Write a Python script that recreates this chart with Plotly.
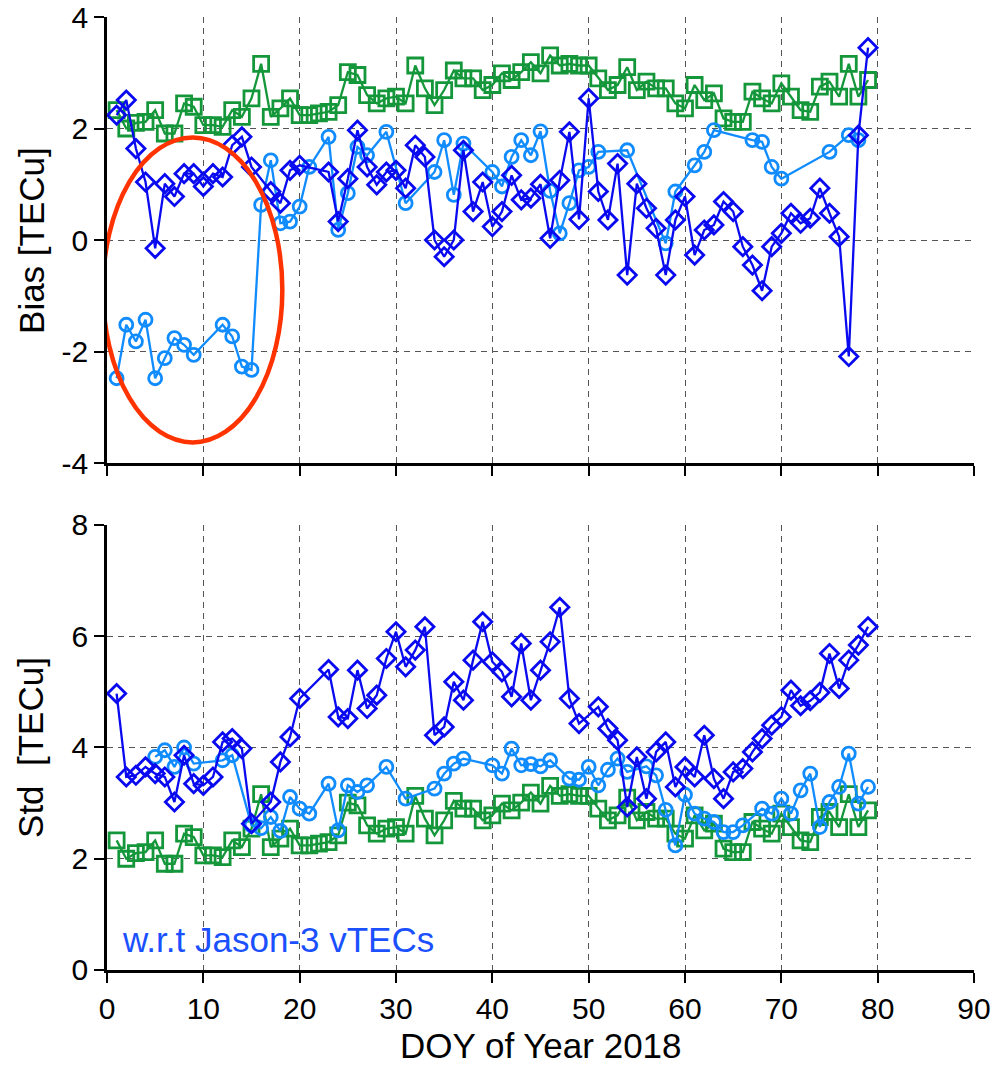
import plotly.graph_objects as go
from plotly.subplots import make_subplots

# Day of year 2018
doy = list(range(1, 80))

# Green squares (same daily values in both panels)
green_vals = [2.33, 2.00, 2.10, 2.12, 2.33, 1.91, 1.91, 2.45, 2.39, 2.06,
              2.06, 2.03, 2.33, 2.21, 2.54, 3.16, 2.21, 2.36, 2.54, 2.24,
              2.24, 2.27, 2.30, 2.42, 3.01, 2.96, 2.60, 2.45, 2.54, 2.57,
              2.45, 3.13, 2.72, 2.42, 2.69, 3.04, 2.90, 2.90, 2.69, 2.78,
              2.99, 2.87, 3.01, 3.19, 2.99, 3.31, 3.13, 3.16, 3.13, 3.13,
              2.90, 2.69, 2.78, 3.10, 2.69, 2.84, 2.72, 2.72, 2.45, 2.36,
              2.78, 2.51, 2.63, 2.18, 2.12, 2.12, 2.66, 2.54, 2.45, 2.81,
              2.57, 2.33, 2.30, 2.75, 2.84, 2.57, 3.16, 2.57, 2.87]

# Dark blue diamonds: bias
diamond_bias = [2.24, 2.51, 1.64, 1.04, -0.15, 1.01, 0.78, 1.19, 1.19, 0.96,
                1.19, 1.13, 1.70, 1.85, 1.31, None, 0.87, 0.66, 1.25, 1.34,
                None, None, 1.22, 0.33, 1.10, 1.97, 1.31, 0.99, 1.22, 1.25,
                0.93, 1.70, 1.49, 0.00, -0.30, 0.00, 1.61, 0.51, 1.04, 0.24,
                0.51, 1.16, 0.72, 0.75, 1.00, 0.03, 1.07, 1.94, 0.37, 2.54,
                0.87, 0.36, 1.37, -0.63, 1.01, 0.57, 0.21, -0.63, 0.36, 0.78,
                -0.27, 0.18, 0.27, 0.69, 0.51, -0.12, -0.45, -0.91, -0.12, 0.12,
                0.48, 0.30, 0.39, 0.93, 0.48, 0.06, -2.09, 1.88, 3.45]

# Light blue circles: bias
circle_bias = [-2.48, -1.52, -1.82, -1.43, -2.48, -2.12, -1.76, -1.88, -2.06, None,
               None, -1.52, -1.73, -2.27, -2.33, 0.63, 1.43, 0.30, 0.33, 0.60,
               1.31, None, 1.85, 0.18, 0.84, 1.67, 1.52, None, 1.94, None,
               0.66, None, None, 1.22, 1.79, 0.81, 1.73, None, None, 1.22,
               0.96, 1.49, 1.79, 1.52, 1.95, 0.88, 0.12, 0.66, 1.25, 1.31,
               1.58, None, None, 1.61, None, None, None, -0.06, 0.87, None,
               1.34, 1.58, 1.97, None, None, None, 1.79, 1.76, 1.31, 1.10,
               None, None, None, None, 1.58, None, 1.88, 1.79, None]

# Dark blue diamonds: std
diamond_std = [4.97, 3.47, 3.50, 3.65, 3.53, 3.47, 3.02, 3.86, 3.35, 3.32,
               3.47, 4.10, 4.16, 3.98, 2.63, None, 3.02, 3.74, 4.19, 4.88,
               None, None, 5.40, 4.55, 4.52, 5.39, 4.70, 4.94, 5.60, 6.08,
               5.45, 5.75, 6.17, 4.22, 4.37, 5.18, 4.85, 5.57, 6.26, 5.54,
               5.36, 4.91, 5.87, 4.85, 5.39, 5.90, 6.52, 4.88, 4.43, None,
               4.73, 4.34, 4.13, 2.93, 3.83, 3.08, 3.92, 4.10, 3.29, 3.65,
               3.47, 4.22, 3.44, 3.08, 3.56, 3.62, 3.92, 4.16, 4.40, 4.55,
               5.03, 4.75, 4.84, 4.99, 5.69, 5.06, 5.57, 5.84, 6.17]

# Light blue circles: std
circle_std = [None, None, None, None, 3.83, 3.95, 3.65, 4.00, 3.71, None,
              None, 3.77, 3.86, None, 2.60, 2.55, 2.75, 2.50, 3.11, 2.90,
              2.81, None, 3.35, 2.51, 3.32, 3.20, 3.32, None, 3.65, None,
              3.08, None, None, 3.26, 3.53, 3.71, 3.80, None, None, 3.68,
              3.53, 3.98, 3.68, 3.70, 3.66, 3.77, None, 3.44, 3.42, 3.65,
              3.32, 3.60, 3.80, 3.56, None, 3.66, 3.50, 2.88, 2.24, 3.15,
              2.81, 2.72, 2.66, 2.48, 2.48, 2.60, None, 2.90, 2.81, 3.08,
              2.81, 3.23, 3.53, 2.57, 3.02, 3.29, 3.89, 2.99, 3.29]

x_ticks = [0, 10, 20, 30, 40, 50, 60, 70, 80, 90]
bias_ticks = [-4, -2, 0, 2, 4]
bias_tick_text = ["-4", "-2", "0", "2", "4"]
std_ticks = [0, 2, 4, 6, 8]

GREEN = "#14973A"
DARK_BLUE = "#0A0AF0"
LIGHT_BLUE = "#108CFF"
FONT = "Liberation Sans"
TICK_FONT = dict(family=FONT, size=30, color="black")
TITLE_FONT = dict(family=FONT, size=35, color="black")

fig = make_subplots(rows=2, cols=1, vertical_spacing=0.065)


def add_series(y, row, color, symbol, size):
    fig.add_trace(
        go.Scatter(
            x=doy, y=y, mode="lines+markers", connectgaps=True,
            line=dict(color=color, width=2.3),
            marker=dict(symbol=symbol, size=size, color=color,
                        line=dict(color=color, width=2.8)),
            showlegend=False,
        ),
        row=row, col=1,
    )


# Top panel: bias
add_series(green_vals, 1, GREEN, "square-open", 15)
add_series(circle_bias, 1, LIGHT_BLUE, "circle-open", 13)
add_series(diamond_bias, 1, DARK_BLUE, "diamond-open", 14)

# Bottom panel: std
add_series(green_vals, 2, GREEN, "square-open", 15)
add_series(circle_std, 2, LIGHT_BLUE, "circle-open", 13)
add_series(diamond_std, 2, DARK_BLUE, "diamond-open", 14)

axis_common = dict(
    showline=True, linecolor="black", linewidth=2.5, mirror=False,
    ticks="outside", ticklen=10, tickwidth=2, tickcolor="black",
    showgrid=True, gridcolor="#555555", gridwidth=1, griddash="6px,5px",
    zeroline=False, automargin=False,
    tickfont=TICK_FONT,
)

fig.update_xaxes(range=[0, 90], tickvals=x_ticks, **axis_common)
fig.update_xaxes(showticklabels=False, row=1, col=1)

fig.update_yaxes(range=[-4, 4], tickvals=bias_ticks, ticktext=bias_tick_text,
                 row=1, col=1, **axis_common)
fig.update_yaxes(range=[0, 8], tickvals=std_ticks, row=2, col=1, **axis_common)

# Axis titles
fig.add_annotation(text="Bias [TECu]", xref="paper", yref="paper",
                   x=-0.0877, y=0.766, textangle=-90, showarrow=False,
                   xanchor="center", yanchor="middle", font=TITLE_FONT)
fig.add_annotation(text="Std  [TECu]", xref="paper", yref="paper",
                   x=-0.0877, y=0.234, textangle=-90, showarrow=False,
                   xanchor="center", yanchor="middle", font=TITLE_FONT)
fig.add_annotation(text="DOY of Year 2018", xref="paper", yref="paper",
                   x=0.5, y=-0.0787, showarrow=False,
                   xanchor="center", yanchor="middle", font=TITLE_FONT)

# Highlight of the negative-bias period at the start of the year
fig.add_shape(
    type="circle", xref="x", yref="y",
    x0=-0.42, x1=18.2, y0=-3.63, y1=1.84,
    line=dict(color="#FF3300", width=4.5),
)

fig.add_annotation(
    x=1.3, y=0.55, xref="x2", yref="y2",
    text="w.r.t Jason-3 vTECs", showarrow=False,
    xanchor="left", yanchor="middle",
    font=dict(family=FONT, size=35, color="#1A50FF"),
)

fig.update_layout(
    width=994, height=1068,
    margin=dict(l=107, r=20, t=17, b=98),
    paper_bgcolor="white", plot_bgcolor="white",
)
fig.layout.yaxis.domain = [0.532, 1.0]
fig.layout.yaxis2.domain = [0.0, 0.467]

fig.write_html("out.html")
